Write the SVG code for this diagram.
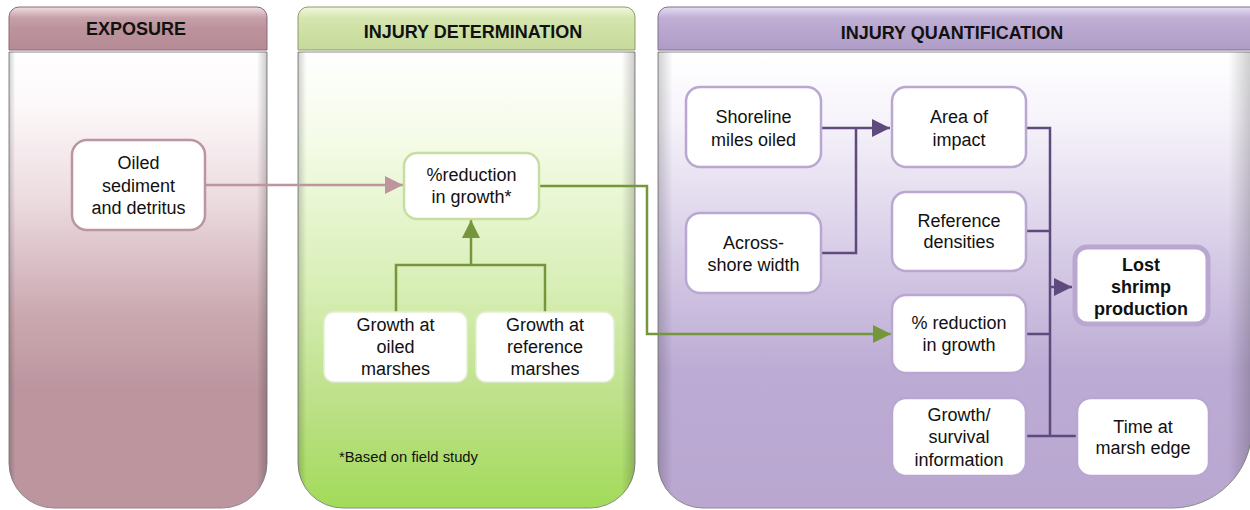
<svg xmlns="http://www.w3.org/2000/svg" width="1250" height="510" viewBox="0 0 1250 510">
<defs>
<style>
.hd{font-family:"Liberation Sans",Arial,sans-serif;font-size:18px;font-weight:bold;fill:#111;text-anchor:middle}
.t{font-family:"Liberation Sans",Arial,sans-serif;font-size:18px;fill:#111;text-anchor:middle}
.tb{font-family:"Liberation Sans",Arial,sans-serif;font-size:18px;font-weight:bold;fill:#111;text-anchor:middle}
.note{font-family:"Liberation Sans",Arial,sans-serif;font-size:15px;fill:#111}
.nP{fill:#fff;stroke:#bc959f;stroke-width:2.5}
.nG{fill:#fff;stroke:#c6dea2;stroke-width:2.5}
.nG2{fill:#fff;stroke:#e4eed6;stroke-width:1.5}
.nQ{fill:#fff;stroke:#b9a7d1;stroke-width:2.5}
.nQb{fill:#fff;stroke:#b9a7d1;stroke-width:5}
.panel{stroke:#8c8c8c;stroke-width:1}
.cP{fill:none;stroke:#bc959f;stroke-width:2.5}
.cG{fill:none;stroke:#76963b;stroke-width:2.5}
.cQ{fill:none;stroke:#5e4a7d;stroke-width:2.5}
</style>
<linearGradient id="bodyP" x1="0" y1="0" x2="0" y2="1">
<stop offset="0" stop-color="#ffffff"/><stop offset="0.12" stop-color="#fdf8f9"/><stop offset="0.32" stop-color="#ecdce0"/><stop offset="0.58" stop-color="#caa8b0"/><stop offset="0.74" stop-color="#bc959f"/><stop offset="1" stop-color="#bc959f"/>
</linearGradient>
<linearGradient id="bodyG" x1="0" y1="0" x2="0" y2="1">
<stop offset="0" stop-color="#ffffff"/><stop offset="0.2" stop-color="#f4fbe6"/><stop offset="0.5" stop-color="#d9efb8"/><stop offset="0.75" stop-color="#bfe18c"/><stop offset="1" stop-color="#a2db5a"/>
</linearGradient>
<linearGradient id="bodyQ" x1="0" y1="0" x2="0" y2="1">
<stop offset="0" stop-color="#ffffff"/><stop offset="0.15" stop-color="#f6f3fa"/><stop offset="0.45" stop-color="#d6cbe6"/><stop offset="0.7" stop-color="#bcabd4"/><stop offset="1" stop-color="#b9a7d0"/>
</linearGradient>
<linearGradient id="hdP" x1="0" y1="0" x2="0" y2="1">
<stop offset="0" stop-color="#f0dde1"/><stop offset="0.25" stop-color="#c6a0a9"/><stop offset="0.5" stop-color="#bc939c"/><stop offset="1" stop-color="#b58b95"/>
</linearGradient>
<linearGradient id="hdG" x1="0" y1="0" x2="0" y2="1">
<stop offset="0" stop-color="#f1f8de"/><stop offset="0.25" stop-color="#d6e6b0"/><stop offset="0.5" stop-color="#cfe1a6"/><stop offset="1" stop-color="#c6d99b"/>
</linearGradient>
<linearGradient id="hdQ" x1="0" y1="0" x2="0" y2="1">
<stop offset="0" stop-color="#e6ddf0"/><stop offset="0.25" stop-color="#c0afd5"/><stop offset="0.5" stop-color="#b9a7cf"/><stop offset="1" stop-color="#b09dc7"/>
</linearGradient>
<linearGradient id="edge" x1="0" y1="0" x2="1" y2="0">
<stop offset="0" stop-color="#000" stop-opacity="0.18"/><stop offset="0.025" stop-color="#000" stop-opacity="0"/><stop offset="0.96" stop-color="#000" stop-opacity="0"/><stop offset="1" stop-color="#000" stop-opacity="0.2"/>
</linearGradient>
<marker id="aP" markerUnits="userSpaceOnUse" markerWidth="18" markerHeight="18" refX="18" refY="9" orient="auto"><path d="M0,0 L18,9 L0,18 Z" fill="#bc959f"/></marker>
<marker id="aG" markerUnits="userSpaceOnUse" markerWidth="18" markerHeight="18" refX="18" refY="9" orient="auto"><path d="M0,0 L18,9 L0,18 Z" fill="#76963b"/></marker>
<marker id="aQ" markerUnits="userSpaceOnUse" markerWidth="18" markerHeight="18" refX="18" refY="9" orient="auto"><path d="M0,0 L18,9 L0,18 Z" fill="#5e4a7d"/></marker>
</defs>

<g id="panel-exposure">
<path class="panel" d="M9,52 H267 V463 A45,45 0 0 1 222,508 H54 A45,45 0 0 1 9,463 Z" fill="url(#bodyP)"/>
<path d="M9,52 H267 V463 A45,45 0 0 1 222,508 H54 A45,45 0 0 1 9,463 Z" fill="url(#edge)"/>
<path d="M9,50 V17 A10,10 0 0 1 19,7 H257 A10,10 0 0 1 267,17 V50 Z" fill="url(#hdP)" stroke="#8a6a72" stroke-width="1"/>
<text class="hd" x="136" y="35">EXPOSURE</text>
</g>

<g id="panel-determination">
<path class="panel" d="M298,52 H635 V463 A45,45 0 0 1 590,508 H343 A45,45 0 0 1 298,463 Z" fill="url(#bodyG)"/>
<path d="M298,52 H635 V463 A45,45 0 0 1 590,508 H343 A45,45 0 0 1 298,463 Z" fill="url(#edge)"/>
<path d="M298,50 V17 A10,10 0 0 1 308,7 H625 A10,10 0 0 1 635,17 V50 Z" fill="url(#hdG)" stroke="#8d9a6c" stroke-width="1"/>
<text class="hd" x="473" y="38">INJURY DETERMINATION</text>
<text class="note" x="339" y="462" textLength="139" lengthAdjust="spacingAndGlyphs">*Based on field study</text>
</g>

<g id="panel-quantification">
<path class="panel" d="M658,52 H1252 V428 A80,80 0 0 1 1172,508 H703 A45,45 0 0 1 658,463 Z" fill="url(#bodyQ)"/>
<path d="M658,52 H1252 V428 A80,80 0 0 1 1172,508 H703 A45,45 0 0 1 658,463 Z" fill="url(#edge)"/>
<path d="M658,50 V17 A10,10 0 0 1 668,7 H1252 V50 Z" fill="url(#hdQ)" stroke="#7d6e90" stroke-width="1"/>
<text class="hd" x="952" y="39">INJURY QUANTIFICATION</text>
</g>

<g id="connectors">
<path class="cP" d="M205,185 H403" marker-end="url(#aP)"/>
<path class="cG" d="M539,186 H647 V334 H891" marker-end="url(#aG)"/>
<path class="cG" d="M396,312 V265 H545 V312"/>
<path class="cG" d="M471,265 V220" marker-end="url(#aG)"/>
<path class="cQ" d="M822,128 H890" marker-end="url(#aQ)"/>
<path class="cQ" d="M822,253 H856 V128"/>
<path class="cQ" d="M1026,128 H1050 V436"/>
<path class="cQ" d="M1026,231 H1050"/>
<path class="cQ" d="M1026,334 H1050"/>
<path class="cQ" d="M1026,436 H1077"/>
<path class="cQ" d="M1050,287 H1072" marker-end="url(#aQ)"/>
</g>

<g id="node-oiled-sediment">
<rect class="nP" x="72" y="140" width="133" height="90" rx="15"/>
<text class="t" x="138.5" y="169">Oiled</text>
<text class="t" x="138.5" y="191.5">sediment</text>
<text class="t" x="138.5" y="214">and detritus</text>
</g>

<g id="node-reduction-star">
<rect class="nG" x="404" y="153" width="135" height="66" rx="13"/>
<text class="t" x="471.5" y="181">%reduction</text>
<text class="t" x="471.5" y="203">in growth*</text>
</g>

<g id="node-growth-oiled">
<rect class="nG2" x="324" y="312" width="143" height="70" rx="10"/>
<text class="t" x="395.5" y="331">Growth at</text>
<text class="t" x="395.5" y="353">oiled</text>
<text class="t" x="395.5" y="375">marshes</text>
</g>

<g id="node-growth-reference">
<rect class="nG2" x="476" y="312" width="138" height="70" rx="10"/>
<text class="t" x="545" y="331">Growth at</text>
<text class="t" x="545" y="353">reference</text>
<text class="t" x="545" y="375">marshes</text>
</g>

<g id="node-shoreline">
<rect class="nQ" x="686" y="87" width="135" height="80" rx="14"/>
<text class="t" x="753.5" y="123">Shoreline</text>
<text class="t" x="753.5" y="146">miles oiled</text>
</g>

<g id="node-across-shore">
<rect class="nQ" x="686" y="213" width="135" height="80" rx="14"/>
<text class="t" x="753.5" y="249">Across-</text>
<text class="t" x="753.5" y="271">shore width</text>
</g>

<g id="node-area">
<rect class="nQ" x="892" y="87" width="134" height="80" rx="14"/>
<text class="t" x="959" y="123">Area of</text>
<text class="t" x="959" y="146">impact</text>
</g>

<g id="node-reference-densities">
<rect class="nQ" x="892" y="192" width="134" height="79" rx="14"/>
<text class="t" x="959" y="227">Reference</text>
<text class="t" x="959" y="248">densities</text>
</g>

<g id="node-reduction">
<rect class="nQ" x="892" y="295" width="134" height="78" rx="14"/>
<text class="t" x="959" y="329">% reduction</text>
<text class="t" x="959" y="351">in growth</text>
</g>

<g id="node-growth-survival">
<rect class="nQ" x="892" y="398" width="134" height="78" rx="14"/>
<text class="t" x="959" y="421">Growth/</text>
<text class="t" x="959" y="443">survival</text>
<text class="t" x="959" y="466">information</text>
</g>

<g id="node-lost-shrimp">
<rect class="nQb" x="1075" y="247" width="133" height="77" rx="12"/>
<text class="tb" x="1141" y="271">Lost</text>
<text class="tb" x="1141" y="293">shrimp</text>
<text class="tb" x="1141" y="315">production</text>
</g>

<g id="node-time">
<rect class="nQ" x="1077" y="398" width="132" height="78" rx="14"/>
<text class="t" x="1143" y="433">Time at</text>
<text class="t" x="1143" y="454">marsh edge</text>
</g>
</svg>
